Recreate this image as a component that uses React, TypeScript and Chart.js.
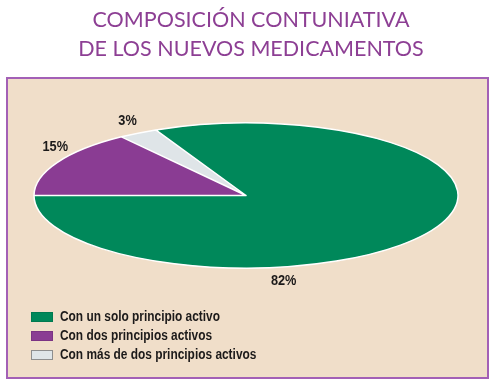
import { useEffect, useRef } from "react";
import { Chart, registerables } from "chart.js";

Chart.register(...registerables);

// ---- data ----
const TITLE_LINES = ["COMPOSICIÓN CONTUNIATIVA", "DE LOS NUEVOS MEDICAMENTOS"];
const CATEGORIES = [
  "Con un solo principio activo",
  "Con dos principios activos",
  "Con más de dos principios activos",
];
const VALUES = [82, 15, 3];

// ---- styles ----
const COLORS = ["#00885a", "#8a3c93", "#dfe5e8"];
const LEGEND_BORDERS = ["#007a50", "#7b3384", "#8e8e8e"];
const BOX_BG = "#f0dec9";
const BOX_BORDER = "#a360b6";
const TITLE_COLOR = "#8d3f94";
const TEXT_COLOR = "#1c1a1a";
const SANS = "'Liberation Sans', Arial, sans-serif";

const deg = (d: number) => (d * Math.PI) / 180;

function narrowText(ctx: any, txt: string, x: number, y: number, sx: number) {
  ctx.save();
  ctx.translate(x, y);
  ctx.scale(sx, 1);
  ctx.fillText(txt, 0, 0);
  ctx.restore();
}

const decorPlugin = {
  id: "decor",
  beforeDraw(chart: any) {
    const { ctx, width, height } = chart;
    const o = chart.options.plugins.decor;
    ctx.save();
    ctx.fillStyle = "#ffffff";
    ctx.fillRect(0, 0, width, height);
    const b = o.box;
    ctx.fillStyle = BOX_BG;
    ctx.fillRect(b.x, b.y, b.w, b.h);
    ctx.strokeStyle = BOX_BORDER;
    ctx.lineWidth = 2;
    ctx.strokeRect(b.x, b.y, b.w, b.h);
    ctx.fillStyle = TITLE_COLOR;
    ctx.font = "21.5px Lato, 'Open Sans', sans-serif";
    ctx.textAlign = "center";
    ctx.textBaseline = "middle";
    TITLE_LINES.forEach((t, i) => ctx.fillText(t, o.title.x, o.title.y + i * o.title.lineGap));
    ctx.restore();
  },
  beforeDatasetsDraw(chart: any) {
    const { ctx, chartArea: ca } = chart;
    const arc = chart.getDatasetMeta(0).data[0];
    if (!arc) return;
    const r = arc.outerRadius;
    const cx = arc.x;
    const cy = arc.y;
    ctx.save();
    ctx.translate(cx, cy);
    ctx.scale(ca.width / 2 / r, ca.height / 2 / r);
    ctx.translate(-cx, -cy);
  },
  afterDatasetsDraw(chart: any) {
    const { ctx, chartArea: ca } = chart;
    const meta = chart.getDatasetMeta(0);
    if (!meta.data[0]) return;
    ctx.restore();
    const o = chart.options.plugins.decor;
    const rx = ca.width / 2;
    const ry = ca.height / 2;
    // white outlines of the slices
    ctx.save();
    ctx.beginPath();
    meta.data.forEach((a: any) => {
      ctx.moveTo(a.x, a.y);
      ctx.ellipse(a.x, a.y, rx, ry, 0, a.startAngle, a.endAngle);
      ctx.closePath();
    });
    ctx.strokeStyle = "#ffffff";
    ctx.lineWidth = 1.5;
    ctx.lineJoin = "round";
    ctx.stroke();
    ctx.restore();

    // value labels
    const total = VALUES.reduce((s, v) => s + v, 0);
    ctx.save();
    ctx.fillStyle = TEXT_COLOR;
    ctx.font = "bold 14.5px " + SANS;
    ctx.textAlign = "center";
    ctx.textBaseline = "middle";
    meta.data.forEach((a: any, i: number) => {
      const ov = o.labelAngles[i];
      const ang = ov != null ? deg(ov) : (a.startAngle + a.endAngle) / 2;
      const px = a.x + rx * Math.cos(ang);
      const py = a.y + ry * Math.sin(ang);
      let nx = Math.cos(ang) / rx;
      let ny = Math.sin(ang) / ry;
      const len = Math.hypot(nx, ny);
      nx /= len;
      ny /= len;
      const txt = Math.round((VALUES[i] / total) * 100) + "%";
      narrowText(ctx, txt, px + nx * o.labelOffset, py + ny * o.labelOffset, 0.88);
    });
    ctx.restore();
  },
  afterDraw(chart: any) {
    const { ctx } = chart;
    const lg = chart.options.plugins.decor.legend;
    ctx.save();
    CATEGORIES.forEach((c, i) => {
      const y = lg.y + i * lg.row;
      ctx.fillStyle = COLORS[i];
      ctx.fillRect(lg.x, y - lg.bh / 2, lg.bw, lg.bh);
      ctx.strokeStyle = LEGEND_BORDERS[i];
      ctx.lineWidth = 1;
      ctx.strokeRect(lg.x + 0.5, y - lg.bh / 2 + 0.5, lg.bw - 1, lg.bh - 1);
      ctx.fillStyle = TEXT_COLOR;
      ctx.font = "bold 14px " + SANS;
      ctx.textAlign = "left";
      ctx.textBaseline = "middle";
      narrowText(ctx, c, lg.tx, y + 0.5, 0.85);
    });
    ctx.restore();
  },
};

export default function App() {
  const ref = useRef<HTMLCanvasElement | null>(null);
  useEffect(() => {
    document.body.style.margin = "0";
    if (!ref.current) return;
    const total = VALUES.reduce((s, v) => s + v, 0);
    const chart = new Chart(ref.current, {
      type: "pie",
      data: {
        labels: CATEGORIES,
        datasets: [
          {
            data: VALUES,
            backgroundColor: COLORS,
            borderWidth: 0,
          },
        ],
      },
      options: {
        responsive: false,
        animation: false,
        devicePixelRatio: 1,
        rotation: 270 - (360 * VALUES[0]) / total,
        layout: { padding: { left: 34, right: 36, top: 123, bottom: 116 } },
        plugins: {
          legend: { display: false },
          title: { display: false },
          tooltip: { enabled: false },
          decor: {
            box: { x: 7, y: 78, w: 481, h: 300 },
            title: { x: 251, y: 20, lineGap: 29.5 },
            labelAngles: [80, 210, 237],
            labelOffset: 14,
            legend: { x: 31, y: 317, row: 19, bw: 22, bh: 10, tx: 60 },
          },
        } as any,
      },
      plugins: [decorPlugin],
    });
    return () => chart.destroy();
  }, []);
  return (
    <div style={{ width: 494, height: 384 }}>
      <canvas ref={ref} width={494} height={384} style={{ display: "block" }} />
    </div>
  );
}
